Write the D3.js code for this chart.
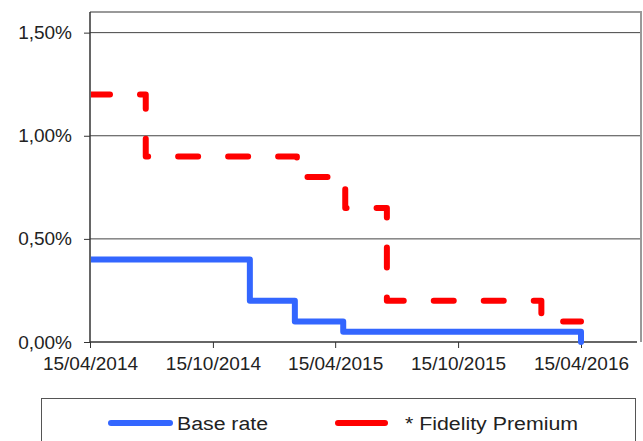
<!DOCTYPE html>
<html>
<head>
<meta charset="utf-8">
<script src="https://cdn.jsdelivr.net/npm/d3@7"></script>
<style>
  body { margin: 0; background: #fff; }
  text { font-family: "Liberation Sans", Arial, sans-serif; fill: #222; }
</style>
</head>
<body>
<script>
// step dates and rates (%)
var baseDates = ["2014-04-15", "2014-12-09", "2015-02-14", "2015-04-27", "2016-04-15", "2016-04-15"];
var baseValues = [0.40, 0.20, 0.10, 0.05, 0.05, 0];

var premDates = ["2014-04-15", "2014-07-07", "2015-02-17", "2015-04-30", "2015-07-01", "2016-02-16", "2016-04-15"];
var premValues = [1.20, 0.90, 0.80, 0.65, 0.20, 0.10, 0.10];

var tickDates = ["2014-04-15", "2014-10-15", "2015-04-15", "2015-10-15", "2016-04-15"];
var yTicks = [0, 0.5, 1.0, 1.5];
var seriesNames = ["Base rate", "* Fidelity Premium"];

var W = 643, H = 441;
var pLeft = 90, pRight = 641, pTop = 12, pBottom = 342;
var parse = d3.utcParse("%Y-%m-%d");

var svg = d3.select("body").append("svg").attr("width", W).attr("height", H);

var x = d3.scaleUtc()
  .domain([parse("2014-04-15"), parse("2016-07-15")])
  .range([pLeft, pLeft + (parse("2016-07-15") - parse("2014-04-15")) / (parse("2016-04-15") - parse("2014-04-15")) * 491]);
var y = d3.scaleLinear().domain([0, 1.6]).range([pBottom, pTop]);

var fmtPct = function(d) { return d3.format(".2f")(d).replace(".", ",") + "%"; };
var fmtDate = d3.utcFormat("%d/%m/%Y");

// gridlines
svg.append("g").selectAll("line").data(yTicks.filter(function(d) { return d > 0; }))
  .enter().append("line")
  .attr("x1", pLeft).attr("x2", pRight)
  .attr("y1", function(d) { return y(d); }).attr("y2", function(d) { return y(d); })
  .attr("stroke", "#444").attr("stroke-width", 1);

// top / right frame
svg.append("path")
  .attr("d", "M" + pLeft + "," + pTop + "H" + pRight + "V" + pBottom)
  .attr("fill", "none").attr("stroke", "#999").attr("stroke-width", 2);

// y axis
var yAxis = svg.append("g").attr("transform", "translate(" + pLeft + ",0)")
  .call(d3.axisLeft(y).tickValues(yTicks).tickFormat(fmtPct).tickSize(6).tickPadding(12));
yAxis.select(".domain").attr("d", "M0," + pTop + "V" + pBottom).attr("stroke", "#333").attr("stroke-width", 1.5);
yAxis.selectAll(".tick line").attr("stroke", "#333");
yAxis.selectAll("text").attr("font-size", 19).attr("fill", "#222")
  .style("font-family", "'Liberation Sans', Arial, sans-serif");

// x axis
var xAxis = svg.append("g").attr("transform", "translate(0," + pBottom + ")")
  .call(d3.axisBottom(x).tickValues(tickDates.map(parse)).tickFormat(fmtDate).tickSize(6).tickPadding(9));
xAxis.select(".domain").attr("d", "M" + pLeft + ",0H" + (pRight - 4)).attr("stroke", "#333").attr("stroke-width", 1.5);
xAxis.selectAll(".tick line").attr("stroke", "#333");
xAxis.selectAll("text").attr("font-size", 19).attr("fill", "#222")
  .style("font-family", "'Liberation Sans', Arial, sans-serif");

svg.append("clipPath").attr("id", "clip")
  .append("rect").attr("x", pLeft + 1).attr("y", 0).attr("width", W).attr("height", H);

var line = d3.line()
  .x(function(d) { return x(d[0]); })
  .y(function(d) { return y(d[1]); })
  .curve(d3.curveStepAfter);

var base = baseDates.map(function(d, i) { return [parse(d), baseValues[i]]; });
var prem = premDates.map(function(d, i) { return [parse(d), premValues[i]]; });

var g = svg.append("g").attr("clip-path", "url(#clip)");
g.append("path").datum(base).attr("d", line)
  .attr("fill", "none").attr("stroke", "#3366ff").attr("stroke-width", 6)
  .attr("stroke-linejoin", "round").attr("stroke-linecap", "round");
g.append("path").datum(prem).attr("d", line)
  .attr("fill", "none").attr("stroke", "#ff0000").attr("stroke-width", 6)
  .attr("stroke-dasharray", "20,30")
  .attr("stroke-linejoin", "round").attr("stroke-linecap", "round");

// legend
var lg = svg.append("g");
lg.append("rect").attr("x", 41.5).attr("y", 398.5).attr("width", 594).attr("height", 60)
  .attr("fill", "#fff").attr("stroke", "#555").attr("stroke-width", 1);
var legendItems = [
  { name: seriesNames[0], color: "#3366ff", x1: 111, x2: 170, tx: 177, tl: 91 },
  { name: seriesNames[1], color: "#ff0000", x1: 338, x2: 385, tx: 405, tl: 173 }
];
legendItems.forEach(function(it) {
  lg.append("line").attr("x1", it.x1).attr("x2", it.x2).attr("y1", 423).attr("y2", 423)
    .attr("stroke", it.color).attr("stroke-width", 6).attr("stroke-linecap", "round");
  lg.append("text").attr("x", it.tx).attr("y", 429.5)
    .attr("font-size", 18).attr("textLength", it.tl).attr("lengthAdjust", "spacingAndGlyphs")
    .text(it.name);
});
</script>
</body>
</html>
